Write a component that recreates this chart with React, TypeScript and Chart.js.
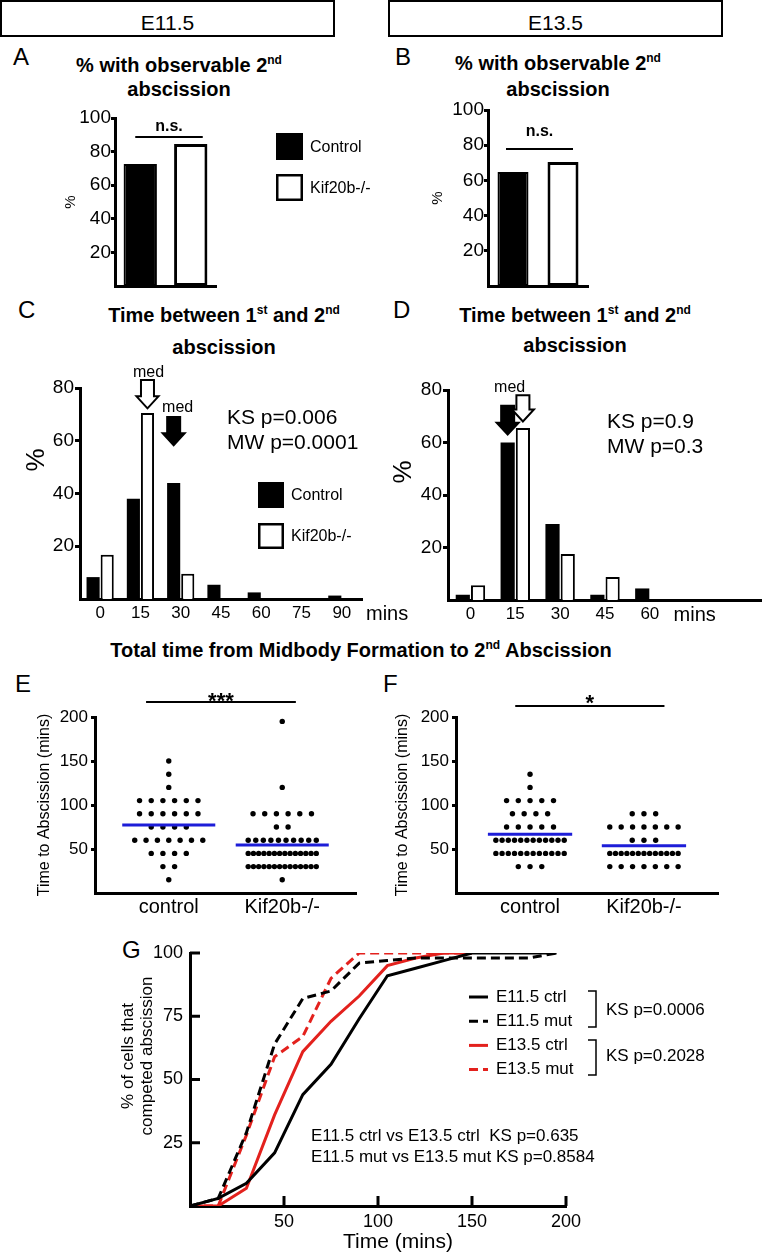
import React, { useEffect, useRef } from "react";
import { Chart, registerables } from "chart.js";
Chart.register(...registerables);

const FONT = "'Liberation Sans', Arial, Helvetica, sans-serif";
Chart.defaults.font.family = FONT;
Chart.defaults.color = "#000";

// ---------------- data ----------------
const genotypes = ["Control", "Kif20b-/-"];
const observableE115 = [72.6, 84.5];
const observableE135 = [64.8, 70.5];

const binsMins = ["0", "15", "30", "45", "60", "75", "90"];
const gapCtrlE115 = [8.3, 38, 44, 5.4, 2.5, 0, 1.3];
const gapMutE115 = [16.8, 70.5, 9.6, 0, 0, 0, 0];
const gapCtrlE135 = [2, 60, 29, 2, 4.4, 0, 0];
const gapMutE135 = [5.6, 65.5, 17.5, 8.8, 0, 0, 0];
const statsE115 = ["KS p=0.006", "MW p=0.0001"];
const statsE135 = ["KS p=0.9", "MW p=0.3"];

const groupsEF = ["control", "Kif20b-/-"];
const totalCtrlE115 = [15, 30, 30, 45, 45, 45, 45, 60, 60, 60, 60, 60, 60, 60, 75, 75, 75, 75,
  90, 90, 90, 90, 90, 90, 105, 105, 105, 105, 105, 105, 120, 135, 150];
const totalMutE115 = [15, 30, 30, 30, 30, 30, 30, 30, 30, 30, 30, 30, 30, 30, 30,
  45, 45, 45, 45, 45, 45, 45, 45, 45, 45, 45, 45, 45, 45,
  60, 60, 60, 60, 60, 60, 60, 60, 60, 60, 75, 75, 90, 90, 90, 90, 90, 90, 120, 195];
const totalCtrlE135 = [30, 30, 30, 45, 45, 45, 45, 45, 45, 45, 45, 45, 45, 45, 45,
  60, 60, 60, 60, 60, 60, 60, 60, 60, 60, 60, 60, 75, 75, 75, 75, 75,
  90, 90, 90, 90, 105, 105, 105, 105, 105, 120, 135];
const totalMutE135 = [30, 30, 30, 30, 30, 30, 30, 45, 45, 45, 45, 45, 45, 45, 45, 45, 45, 45, 45, 45,
  60, 60, 60, 75, 75, 75, 75, 75, 75, 75, 90, 90, 90];

const timeG = [0, 15, 30, 45, 60, 75, 90, 105, 120, 135, 150, 165, 180, 195];
const cumE115Ctrl = [0, 3, 9, 21, 44, 56, 74, 91, 94, 97, 100, 100, 100, 100];
const cumE115Mut = [0, 3, 29, 64, 82, 85, 96, 97, 98, 98, 98, 98, 98, 100];
const cumE135Ctrl = [0, 0, 7, 36, 61, 73, 83, 95, 98, 100, 100];
const cumE135Mut = [0, 0, 28, 59, 67, 90, 100, 100, 100, 100, 100];
const seriesG = ["E11.5 ctrl", "E11.5 mut", "E13.5 ctrl", "E13.5 mut"];
const statsG = ["KS p=0.0006", "KS p=0.2028"];
const compareG = ["E11.5 ctrl vs E13.5 ctrl  KS p=0.635", "E11.5 mut vs E13.5 mut KS p=0.8584"];

// ---------------- helpers ----------------
const RED = "#e3211d";
const BLUE = "#1d1dd8";

const base = (padding: any) => ({
  responsive: false,
  animation: false,
  events: [],
  layout: { padding, autoPadding: false },
  plugins: { legend: { display: false }, tooltip: { enabled: false }, title: { display: false } },
});
const axisBorder = () => ({ display: true, width: 3, color: "#000" });
const hideZero = (v: any) => (Number(v) === 0 ? "" : String(v));
const tickW = (c: any) => (c.tick && c.tick.value === 0 ? 0 : 3);

function drawBoxLegend(ctx: any, chart: any, x: number, y: number, gap: number, size: number, font: number) {
  chart.data.datasets.forEach((ds: any, i: number) => {
    const yy = y + i * gap;
    ctx.fillStyle = ds.backgroundColor;
    ctx.fillRect(x, yy, size, size);
    ctx.lineWidth = 2.5;
    ctx.strokeStyle = "#000";
    ctx.strokeRect(x + 1.25, yy + 1.25, size - 2.5, size - 2.5);
    ctx.fillStyle = "#000";
    ctx.font = `${font}px ${FONT}`;
    ctx.textAlign = "left";
    ctx.textBaseline = "middle";
    ctx.fillText(ds.label, x + size + 7, yy + size / 2 + 1);
  });
}

function drawArrow(ctx: any, cx: number, yTop: number, yTip: number, fill: string) {
  const shaftW = 13, headW = 22, headH = 12;
  ctx.beginPath();
  ctx.moveTo(cx - shaftW / 2, yTop);
  ctx.lineTo(cx + shaftW / 2, yTop);
  ctx.lineTo(cx + shaftW / 2, yTip - headH);
  ctx.lineTo(cx + headW / 2, yTip - headH);
  ctx.lineTo(cx, yTip);
  ctx.lineTo(cx - headW / 2, yTip - headH);
  ctx.lineTo(cx - shaftW / 2, yTip - headH);
  ctx.closePath();
  ctx.fillStyle = fill;
  ctx.fill();
  ctx.lineWidth = 2;
  ctx.strokeStyle = "#000";
  ctx.lineJoin = "miter";
  ctx.stroke();
}

function swarm(values: number[], center: number, step = 0.103, maxSpan = 0.6) {
  const rows = new Map<number, number>();
  values.forEach((v) => rows.set(v, (rows.get(v) || 0) + 1));
  const pts: { x: number; y: number }[] = [];
  rows.forEach((n, v) => {
    const s = n > 1 ? Math.min(step, maxSpan / (n - 1)) : 0;
    for (let i = 0; i < n; i++) pts.push({ x: center + (i - (n - 1) / 2) * s, y: v });
  });
  return pts;
}
const mean = (a: number[]) => a.reduce((s, v) => s + v, 0) / a.length;
const meanSeg = (a: number[], c: number, half: number) => [
  { x: c - half, y: mean(a) },
  { x: c + half, y: mean(a) },
];
const pairs = (xs: number[], ys: number[]) => ys.map((y, i) => ({ x: xs[i], y }));

// ---------------- A / B ----------------
function makeObservable(values: number[], p: any) {
  return () => ({
    type: "bar",
    data: {
      labels: genotypes,
      datasets: [
        { label: genotypes[0], data: [values[0], null], backgroundColor: "#000", borderColor: "#000", borderWidth: 2 },
        { label: genotypes[1], data: [null, values[1]], backgroundColor: "#fff", borderColor: "#000", borderWidth: 3 },
      ],
    },
    options: {
      ...base(p.padding),
      datasets: { bar: { grouped: false, barPercentage: p.barPct, categoryPercentage: 1, borderSkipped: false } },
      scales: {
        x: {
          grid: { display: false, drawTicks: false },
          border: axisBorder(),
          ticks: { display: false },
          afterFit: (s: any) => { s.height = 10; },
        },
        y: {
          min: 0, max: 100,
          ticks: { stepSize: 20, callback: hideZero, font: { size: 19 }, color: "#000", padding: 0 },
          grid: { drawOnChartArea: false, drawTicks: true, tickLength: 4, lineWidth: tickW, color: "#000" },
          border: axisBorder(),
          title: { display: true, text: "%", font: { size: 15 }, padding: { top: p.titlePad, bottom: 0 } },
          afterFit: (s: any) => { s.width = 60; },
        },
      },
    },
    plugins: [{
      id: "obsNotes",
      afterDraw(chart: any) {
        const { ctx, chartArea: ca, scales: { y } } = chart;
        const b0 = chart.getDatasetMeta(0).data[0];
        const b1 = chart.getDatasetMeta(1).data[1];
        const ly = y.getPixelForValue(p.sigLevel);
        const x1 = b0.x + p.sigL, x2 = b1.x + p.sigR;
        ctx.save();
        ctx.strokeStyle = "#000";
        ctx.lineWidth = 2;
        ctx.beginPath(); ctx.moveTo(x1, ly); ctx.lineTo(x2, ly); ctx.stroke();
        ctx.fillStyle = "#000";
        ctx.font = `bold 16px ${FONT}`;
        ctx.textAlign = "center";
        ctx.textBaseline = "middle";
        ctx.fillText("n.s.", (x1 + x2) / 2, ly - p.sigLift);
        if (p.legend) drawBoxLegend(ctx, chart, ca.right + 60, ca.top + 15, 41, 27, 16);
        ctx.restore();
      },
    }],
  });
}

const cfgA = makeObservable(observableE115, {
  padding: { left: 55, right: 164, top: 23, bottom: 14 }, barPct: 0.66, titlePad: 7,
  sigLevel: 88.7, sigL: -5, sigR: 12, sigLift: 10, legend: true,
});
const cfgB = makeObservable(observableE135, {
  padding: { left: 48, right: 174, top: 15, bottom: 14 }, barPct: 0.62, titlePad: 1,
  sigLevel: 77.8, sigL: -7, sigR: 10, sigLift: 17, legend: false,
});

// ---------------- C / D ----------------
function makeGap(ctrl: number[], mut: number[], p: any) {
  return () => ({
    type: "bar",
    data: {
      labels: binsMins,
      datasets: [
        { label: genotypes[0], data: ctrl, backgroundColor: "#000", borderColor: "#000", borderWidth: 0 },
        { label: genotypes[1], data: mut, backgroundColor: "#fff", borderColor: "#000", borderWidth: 2 },
      ],
    },
    options: {
      ...base(p.padding),
      datasets: { bar: { categoryPercentage: p.catPct, barPercentage: 0.93, borderSkipped: "bottom" } },
      scales: {
        x: {
          grid: { display: false, drawTicks: false },
          border: axisBorder(),
          ticks: { font: { size: 17 }, color: "#000", padding: 4, maxRotation: 0, autoSkip: false, callback: (_v: any, i: number) => p.tick(i) },
          afterFit: (s: any) => { s.height = 30; },
        },
        y: {
          min: 0, max: 80,
          ticks: { stepSize: 20, callback: hideZero, font: { size: 19 }, color: "#000", padding: 1 },
          grid: { drawOnChartArea: false, drawTicks: true, tickLength: 5, lineWidth: tickW, color: "#000" },
          border: axisBorder(),
          afterFit: (s: any) => { s.width = p.yW; },
        },
      },
    },
    plugins: [{
      id: "gapNotes",
      afterDraw(chart: any) {
        const { ctx, chartArea: ca, scales: { x, y } } = chart;
        ctx.save();
        p.arrows.forEach((a: any) => {
          const bar = chart.getDatasetMeta(a.ds).data[a.idx];
          drawArrow(ctx, bar.x, y.getPixelForValue(a.top), y.getPixelForValue(a.tip), a.fill);
        });
        ctx.fillStyle = "#000";
        ctx.font = `16px ${FONT}`;
        ctx.textAlign = "center";
        ctx.textBaseline = "alphabetic";
        p.meds.forEach((m: any) => {
          const bar = chart.getDatasetMeta(m.ds).data[m.idx];
          ctx.fillText("med", bar.x + m.dx, y.getPixelForValue(m.level));
        });
        ctx.font = `21px ${FONT}`;
        ctx.textAlign = "left";
        ctx.textBaseline = "middle";
        p.stats.forEach((s: string, i: number) => ctx.fillText(s, ca.left + p.statDx, ca.top + p.statDy + i * 25));
        ctx.save();
        ctx.translate(ca.left + p.pctDx, ca.top + p.pctDy);
        ctx.rotate(-Math.PI / 2);
        ctx.font = `26px ${FONT}`;
        ctx.textAlign = "center";
        ctx.fillText("%", 0, 0);
        ctx.restore();
        ctx.font = `20px ${FONT}`;
        ctx.textBaseline = "alphabetic";
        if (p.minsIdx < 0) {
          ctx.textAlign = "left";
          ctx.fillText("mins", ca.right + 4, ca.bottom + 21);
        } else {
          ctx.textAlign = "center";
          ctx.fillText("mins", x.getPixelForValue(p.minsIdx), ca.bottom + 21);
        }
        if (p.legend) drawBoxLegend(ctx, chart, ca.left + 178, ca.top + 94, 41, 26, 16);
        ctx.restore();
      },
    }],
  });
}

const cfgC = makeGap(gapCtrlE115, gapMutE115, {
  padding: { left: 35, right: 58, top: 33, bottom: 1 }, yW: 45, catPct: 0.7,
  tick: (i: number) => binsMins[i],
  arrows: [
    { ds: 1, idx: 1, top: 83, tip: 72.3, fill: "#fff" },
    { ds: 0, idx: 2, top: 69, tip: 58.3, fill: "#000" },
  ],
  meds: [{ ds: 1, idx: 1, dx: 1, level: 84 }, { ds: 0, idx: 2, dx: 4, level: 70.8 }],
  stats: statsE115, statDx: 147, statDy: 30, pctDx: -43, pctDy: 72, minsIdx: -1, legend: true,
});
const cfgD = makeGap(gapCtrlE135, gapMutE135, {
  padding: { left: 23, right: 0, top: 35, bottom: 0 }, yW: 45, catPct: 0.68,
  tick: (i: number) => (i <= 4 ? binsMins[i] : ""),
  arrows: [
    { ds: 0, idx: 1, top: 74, tip: 63, fill: "#000" },
    { ds: 1, idx: 1, top: 78, tip: 68, fill: "#fff" },
  ],
  meds: [{ ds: 0, idx: 1, dx: 2, level: 79.2 }],
  stats: statsE135, statDx: 159, statDy: 32, pctDx: -44, pctDy: 82, minsIdx: 5, legend: false,
});

// ---------------- E / F ----------------
function makeTotal(ctrl: number[], mut: number[], p: any) {
  return () => ({
    type: "scatter",
    data: {
      datasets: [
        { type: "line", label: "mean " + groupsEF[0], data: meanSeg(ctrl, 1, p.half), borderColor: BLUE, borderWidth: 3, pointRadius: 0, pointHoverRadius: 0, order: -1 },
        { type: "line", label: "mean " + groupsEF[1], data: meanSeg(mut, 2, p.half), borderColor: BLUE, borderWidth: 3, pointRadius: 0, pointHoverRadius: 0, order: -1 },
        { label: groupsEF[0], data: swarm(ctrl, 1), backgroundColor: "#000", pointRadius: 2.7, borderWidth: 0 },
        { label: groupsEF[1], data: swarm(mut, 2), backgroundColor: "#000", pointRadius: 2.7, borderWidth: 0 },
      ],
    },
    options: {
      ...base(p.padding),
      scales: {
        x: {
          type: "linear", min: 0.35, max: 2.65,
          afterBuildTicks: (s: any) => { s.ticks = [{ value: 1 }, { value: 2 }]; },
          ticks: { callback: (v: any) => groupsEF[Math.round(v) - 1], font: { size: 20 }, color: "#000", padding: 2, maxRotation: 0 },
          grid: { display: false, drawTicks: false },
          border: axisBorder(),
          afterFit: (s: any) => { s.height = 30; },
        },
        y: {
          min: 0, max: 200,
          ticks: { stepSize: 50, callback: hideZero, font: { size: 17 }, color: "#000", padding: 3 },
          grid: { drawOnChartArea: false, drawTicks: true, tickLength: 4, lineWidth: tickW, color: "#000" },
          border: axisBorder(),
          title: { display: true, text: "Time to Abscission (mins)", font: { size: 16 }, padding: { top: 0, bottom: 0 } },
          afterFit: (s: any) => { s.width = p.yW; },
        },
      },
    },
    plugins: [{
      id: "sigNotes",
      afterDraw(chart: any) {
        const { ctx, chartArea: ca, scales: { x } } = chart;
        const x1 = x.getPixelForValue(p.sig[0]), x2 = x.getPixelForValue(p.sig[1]);
        const ly = ca.top - p.sigDy;
        ctx.save();
        ctx.strokeStyle = "#000";
        ctx.lineWidth = 2;
        ctx.beginPath(); ctx.moveTo(x1, ly); ctx.lineTo(x2, ly); ctx.stroke();
        ctx.fillStyle = "#000";
        ctx.font = `bold 22px ${FONT}`;
        ctx.textAlign = "center";
        ctx.textBaseline = "alphabetic";
        ctx.fillText(p.stars, (x1 + x2) / 2, ly + p.starBase);
        ctx.restore();
      },
    }],
  });
}

const cfgE = makeTotal(totalCtrlE115, totalMutE115, {
  padding: { left: 35, right: 24, top: 37, bottom: 7 }, yW: 60, half: 0.41,
  sig: [0.8, 2.12], sigDy: 15, stars: "***", starBase: 5.5,
});
const cfgF = makeTotal(totalCtrlE135, totalMutE135, {
  padding: { left: 13, right: 44, top: 37, bottom: 7 }, yW: 63, half: 0.37,
  sig: [0.87, 2.18], sigDy: 11, stars: "*", starBase: 3.5,
});

// ---------------- G ----------------
const cfgG = () => ({
  type: "line",
  data: {
    datasets: [
      { label: seriesG[0], data: pairs(timeG, cumE115Ctrl), borderColor: "#000", borderDash: [] },
      { label: seriesG[1], data: pairs(timeG, cumE115Mut), borderColor: "#000", borderDash: [9, 5] },
      { label: seriesG[2], data: pairs(timeG, cumE135Ctrl), borderColor: RED, borderDash: [] },
      { label: seriesG[3], data: pairs(timeG, cumE135Mut), borderColor: RED, borderDash: [9, 5] },
    ],
  },
  options: {
    ...base({ left: 18, right: 196, top: 23, bottom: 1 }),
    elements: { point: { radius: 0, hoverRadius: 0 }, line: { tension: 0, borderWidth: 3, fill: false } },
    scales: {
      x: {
        type: "linear", min: 0, max: 200,
        ticks: { stepSize: 50, callback: hideZero, font: { size: 18 }, color: "#000", padding: 5, maxRotation: 0 },
        grid: { display: false, drawTicks: false },
        border: axisBorder(),
        afterFit: (s: any) => { s.height = 50; },
      },
      y: {
        min: 0, max: 100,
        ticks: { stepSize: 25, callback: hideZero, font: { size: 18 }, color: "#000", padding: 7 },
        grid: { display: false, drawTicks: false },
        border: axisBorder(),
        afterFit: (s: any) => { s.width = 72; },
      },
    },
  },
  plugins: [{
    id: "gNotes",
    afterDraw(chart: any) {
      const { ctx, chartArea: ca, scales: { x, y } } = chart;
      ctx.save();
      ctx.strokeStyle = "#000";
      ctx.lineWidth = 3;
      x.ticks.forEach((t: any) => {
        if (!t.value) return;
        const px = x.getPixelForValue(t.value);
        ctx.beginPath(); ctx.moveTo(px, ca.bottom); ctx.lineTo(px, ca.bottom - 10); ctx.stroke();
      });
      y.ticks.forEach((t: any) => {
        if (!t.value) return;
        const py = y.getPixelForValue(t.value);
        ctx.beginPath(); ctx.moveTo(ca.left, py); ctx.lineTo(ca.left + 10, py); ctx.stroke();
      });
      ctx.fillStyle = "#000";
      ctx.font = `21px ${FONT}`;
      ctx.textAlign = "center";
      ctx.textBaseline = "middle";
      ctx.fillText("Time (mins)", ca.left + 208, ca.bottom + 36);
      ctx.save();
      ctx.translate(ca.left - 62, ca.top + 103);
      ctx.rotate(-Math.PI / 2);
      ctx.font = `17px ${FONT}`;
      ctx.fillText("% of cells that", 0, 0);
      ctx.fillText("competed abscission", 0, 19);
      ctx.restore();
      // legend
      chart.data.datasets.forEach((ds: any, i: number) => {
        const ly = ca.top + 44 + i * 24.2;
        ctx.strokeStyle = ds.borderColor;
        ctx.lineWidth = 3;
        ctx.setLineDash(ds.borderDash || []);
        ctx.beginPath(); ctx.moveTo(ca.left + 279, ly); ctx.lineTo(ca.left + 298, ly); ctx.stroke();
        ctx.setLineDash([]);
        ctx.fillStyle = "#000";
        ctx.font = `17px ${FONT}`;
        ctx.textAlign = "left";
        ctx.fillText(ds.label, ca.left + 306, ly);
      });
      ctx.strokeStyle = "#000";
      ctx.lineWidth = 1.5;
      [[38, 74], [87, 122]].forEach(([a, b]) => {
        ctx.beginPath();
        ctx.moveTo(ca.left + 398, ca.top + a);
        ctx.lineTo(ca.left + 406, ca.top + a);
        ctx.lineTo(ca.left + 406, ca.top + b);
        ctx.lineTo(ca.left + 398, ca.top + b);
        ctx.stroke();
      });
      ctx.font = `17px ${FONT}`;
      ctx.fillText(statsG[0], ca.left + 416, ca.top + 57);
      ctx.fillText(statsG[1], ca.left + 416, ca.top + 103);
      ctx.fillText(compareG[0], ca.left + 121, ca.top + 183);
      ctx.fillText(compareG[1], ca.left + 121, ca.top + 204);
      ctx.restore();
    },
  }],
});

// ---------------- components ----------------
function ChartCanvas({ left, top, width, height, make }: { left: number; top: number; width: number; height: number; make: () => any }) {
  const ref = useRef<HTMLCanvasElement | null>(null);
  useEffect(() => {
    if (!ref.current) return;
    const chart = new Chart(ref.current, make());
    return () => chart.destroy();
  }, [make]);
  return (
    <div style={{ position: "absolute", left, top, width, height }}>
      <canvas ref={ref} width={width} height={height} style={{ width, height, display: "block" }} />
    </div>
  );
}

const Sup = ({ children }: { children: any }) => (
  <span style={{ fontSize: 12, position: "relative", top: -8, lineHeight: 0 }}>{children}</span>
);

function Title({ left, top, width, lh, children }: any) {
  return (
    <div style={{ position: "absolute", left, top, width, textAlign: "center", fontWeight: "bold", fontSize: 20, lineHeight: lh + "px", whiteSpace: "nowrap" }}>
      {children}
    </div>
  );
}

function Letter({ left, top, ch }: any) {
  return <div style={{ position: "absolute", left, top, fontSize: 24, lineHeight: "28px" }}>{ch}</div>;
}

function HeaderBox({ left, label }: any) {
  return (
    <div style={{
      position: "absolute", left, top: 0, width: 335, height: 37, boxSizing: "border-box",
      border: "2px solid #000", display: "flex", justifyContent: "center", alignItems: "center",
      paddingTop: 8, fontSize: 21,
    }}>{label}</div>
  );
}

export default function App() {
  useEffect(() => { document.body.style.margin = "0"; }, []);
  return (
    <div style={{ position: "absolute", left: 0, top: 0, width: 762, height: 1257, background: "#fff", fontFamily: FONT, color: "#000", overflow: "hidden" }}>
      <HeaderBox left={0} label="E11.5" />
      <HeaderBox left={388} label="E13.5" />

      <Letter left={13} top={43} ch="A" />
      <Letter left={395} top={43} ch="B" />
      <Letter left={18} top={296} ch="C" />
      <Letter left={393} top={296} ch="D" />
      <Letter left={15} top={670} ch="E" />
      <Letter left={383} top={670} ch="F" />
      <Letter left={122} top={936} ch="G" />

      <Title left={19} top={53} width={320} lh={24}>% with observable 2<Sup>nd</Sup><br />abscission</Title>
      <Title left={398} top={50} width={320} lh={26}>% with observable 2<Sup>nd</Sup><br />abscission</Title>
      <Title left={54} top={299} width={340} lh={32}>Time between 1<Sup>st</Sup> and 2<Sup>nd</Sup><br />abscission</Title>
      <Title left={405} top={300} width={340} lh={30}>Time between 1<Sup>st</Sup> and 2<Sup>nd</Sup><br />abscission</Title>
      <Title left={61} top={638} width={600} lh={24}>Total time from Midbody Formation to 2<Sup>nd</Sup> Abscission</Title>

      <ChartCanvas left={0} top={95} width={380} height={215} make={cfgA} />
      <ChartCanvas left={380} top={95} width={382} height={215} make={cfgB} />
      <ChartCanvas left={0} top={355} width={420} height={275} make={cfgC} />
      <ChartCanvas left={380} top={355} width={382} height={275} make={cfgD} />
      <ChartCanvas left={0} top={680} width={380} height={250} make={cfgE} />
      <ChartCanvas left={380} top={680} width={382} height={250} make={cfgF} />
      <ChartCanvas left={100} top={930} width={662} height={327} make={cfgG} />
    </div>
  );
}
